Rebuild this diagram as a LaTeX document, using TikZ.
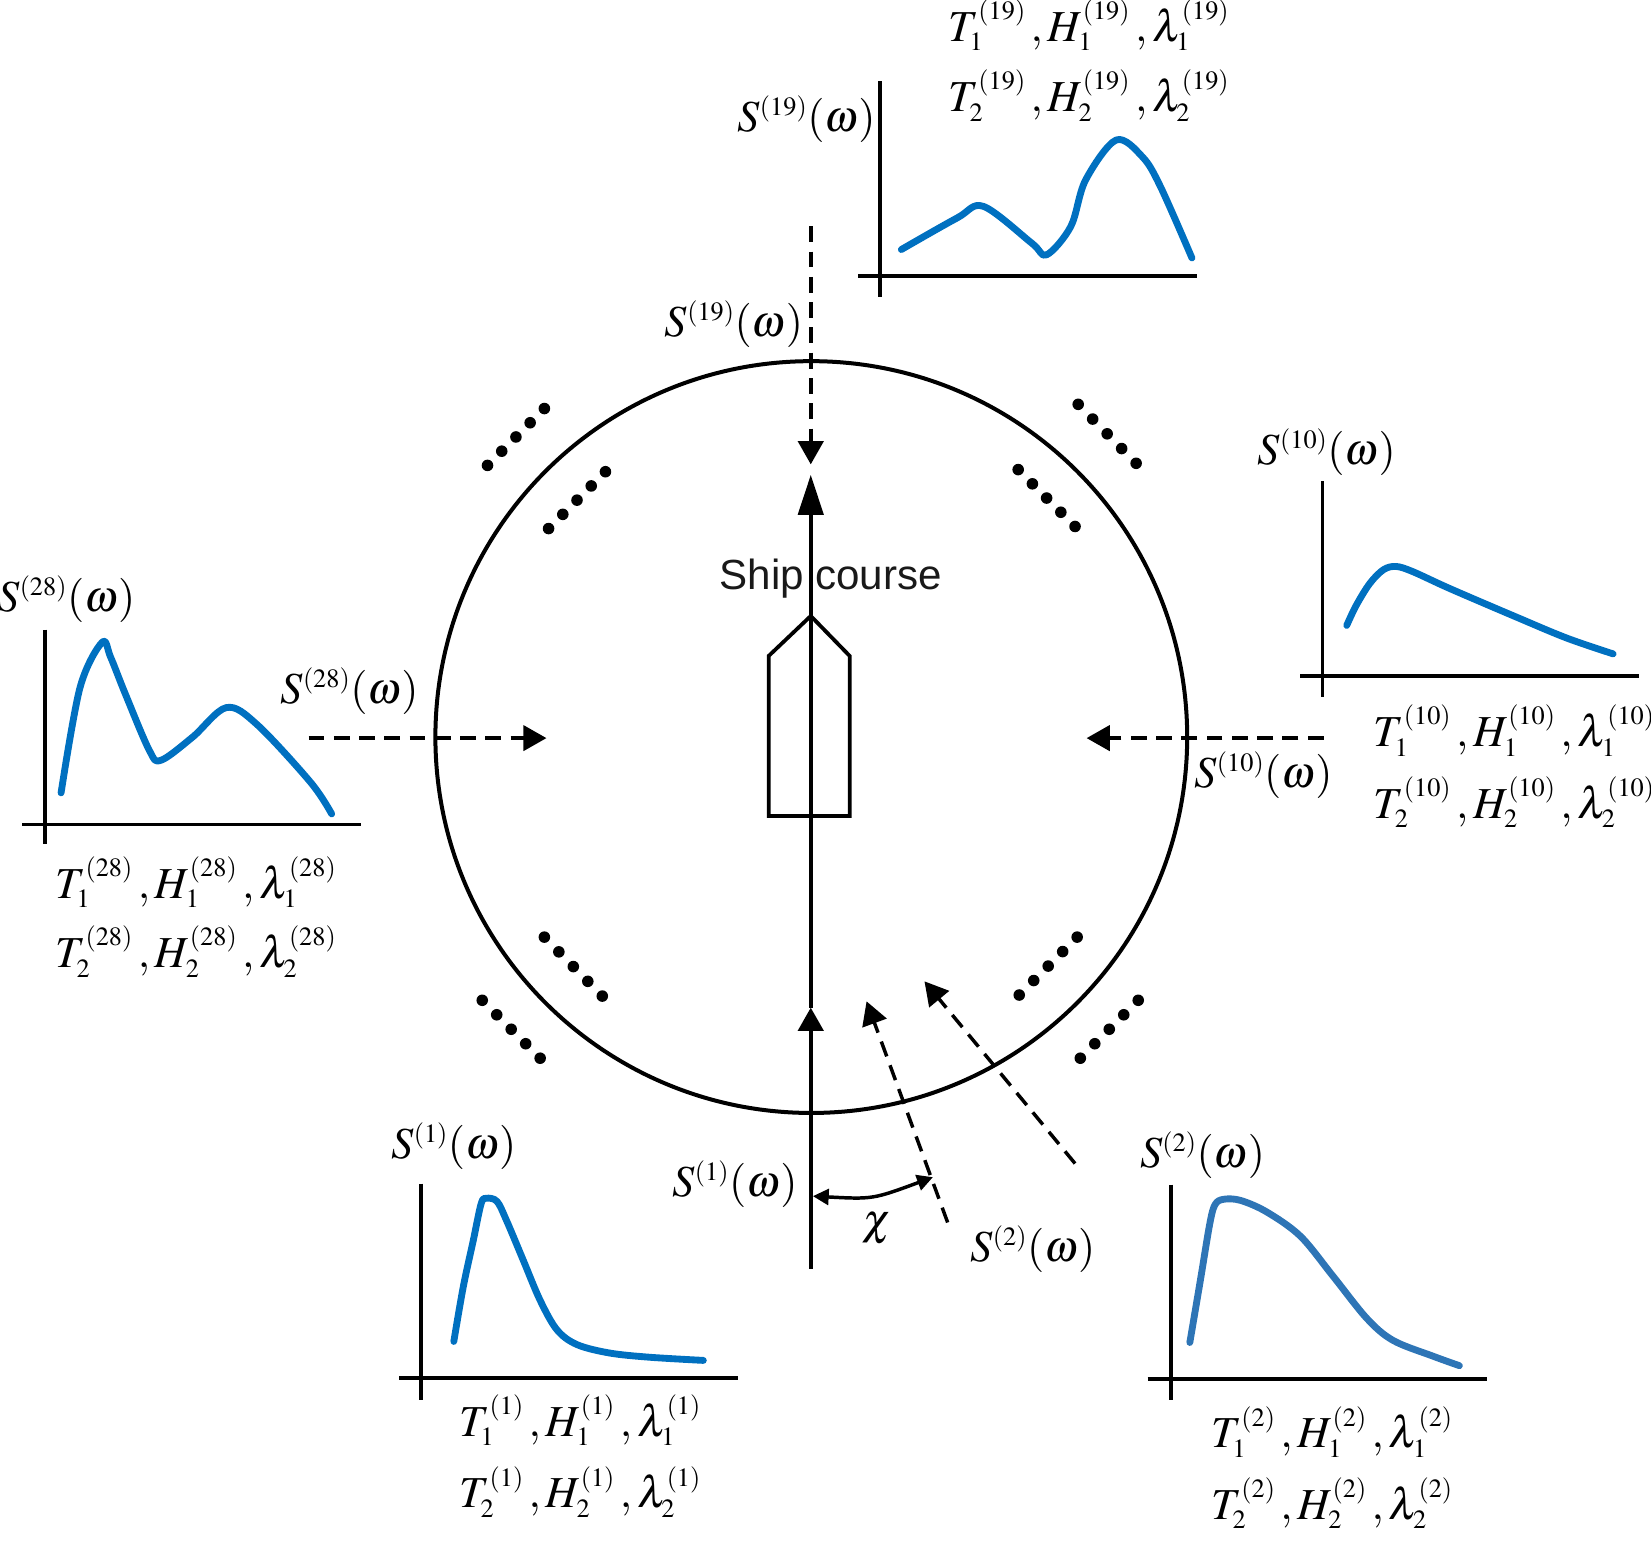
\documentclass[tikz,border=0pt]{standalone}
\usepackage{mathptmx}
\usepackage{fontspec}
\setmainfont{Liberation Serif}
\newfontfamily\shipfont{Liberation Sans}
\usetikzlibrary{arrows.meta,calc}
\DeclareMathSizes{42}{42}{25}{18}
\definecolor{specblue}{HTML}{0070C0}
\definecolor{specbluetwo}{HTML}{2E75B6}
\newcommand\wparams[2]{$T_{#1}^{(#2)}\,,H_{#1}^{(#2)}\,,\lambda_{#1}^{(#2)}$}
\begin{document}
\begin{tikzpicture}[x=1pt,y=-1pt,
  lbl/.style={anchor=base,inner sep=0pt,font=\fontsize{42}{50}\selectfont},
  axisline/.style={line width=3.6pt},
  spec/.style={line width=6.5pt,color=specblue,line cap=round,line join=round},
  wave/.style={line width=3.3pt,dash pattern=on 15pt off 9pt,-{Triangle[length=22pt,width=24pt]}},
  course/.style={line width=3.4pt},
  dotmark/.style={fill=black}
]
\useasboundingbox (0,0) rectangle (1568,1463);

% ring
\node[circle,draw,line width=3.8pt,minimum size=714pt,inner sep=0pt] (ring) at (770.5,700) {};

% ship
\draw[line width=3.6pt,line join=miter] (730,775) -- (730,623) -- (770,585) -- (807,623) -- (807,775) -- cycle;

% ship course line
\coordinate (sb) at (770,1205);
\coordinate (sm) at (770,957);
\coordinate (st) at (770,451);
\draw[course,-{Triangle[length=22pt,width=24pt]}] (sb) -- (sm);
\draw[course,-{Triangle[length=38pt,width=24pt]}] (sm) -- (st);
\node[anchor=base,inner sep=0pt,font=\shipfont\fontsize{40}{48}\selectfont,text=black!90] (shipcourse) at (789,560) {Ship course};

% wave direction arrows
\coordinate (w19a) at (770,215);  \coordinate (w19b) at (770,441);
\coordinate (w28a) at (293,701);  \coordinate (w28b) at (519,701);
\coordinate (w10a) at (1257,701); \coordinate (w10b) at (1032,701);
\coordinate (w2a1) at (900,1161); \coordinate (w2a2) at (823,951);
\coordinate (w2b1) at (1021,1105); \coordinate (w2b2) at (878,932);
\draw[wave] (w19a) -- (w19b);
\draw[wave] (w28a) -- (w28b);
\draw[wave] (w10a) -- (w10b);
\draw[wave] (w2a1) -- (w2a2);
\draw[wave] (w2b1) -- (w2b2);

% chi angle
\coordinate (c1) at (772,1136);
\coordinate (c2) at (886,1118);
\draw[line width=3.3pt,{Triangle[length=15pt,width=15pt]}-{Triangle[length=15pt,width=15pt]}] (c1) .. controls (829,1139) .. (c2);
\node[lbl] (chi) at (833,1172) {$\chi$};

% dots
\foreach \ax/\ay/\bx/\by in {463/442/517/388, 521/502/575/448, 1024/384/1079/440, 967/446/1021/500,
  517/890/572/946, 458/950/513/1005, 968/945/1023/890, 1026/1005/1081/950}{
  \foreach \i in {0,...,4}{
    \fill[dotmark] ($(\ax,\ay)!\i/4!(\bx,\by)$) circle[radius=5.5pt];
  }
}

% labels near arrows
\node[lbl] (s19a) at (697,320) {$S^{(19)}(\omega)$};
\node[lbl] (s28a) at (332,668) {$S^{(28)}(\omega)$};
\node[lbl] (s10a) at (1200,748) {$S^{(10)}(\omega)$};
\node[lbl] (s1a) at (698,1136) {$S^{(1)}(\omega)$};
\node[lbl] (s2a) at (981,1198) {$S^{(2)}(\omega)$};

% ---- spectrum 19 (top)
\draw[axisline] (836,77) -- (836,282);
\draw[axisline] (815,262) -- (1137,262);
\draw[spec] plot[smooth,tension=0.55] coordinates {(856,237) (909,207) (934,196) (980,231) (994,242) (1017,215) (1031,171) (1060,133) (1085,149) (1102,177) (1132,245)};
\node[lbl] (s19t) at (766,125) {$S^{(19)}(\omega)$};
\node[lbl] (p19a) at (1034,39) {\wparams{1}{19}};
\node[lbl] (p19b) at (1034,106) {\wparams{2}{19}};

% ---- spectrum 10 (right)
\draw[axisline] (1256,457) -- (1256,662);
\draw[axisline] (1235,642) -- (1557,642);
\draw[spec] plot[smooth,tension=0.55] coordinates {(1279,594) (1288,575) (1301,554) (1314,541) (1326,538) (1342,543) (1377,559) (1440,586) (1488,606) (1532,621)};
\node[lbl] (s10t) at (1260,441) {$S^{(10)}(\omega)$};
\node[lbl] (p10a) at (1438,709) {\wparams{1}{10}};
\node[lbl] (p10b) at (1438,777) {\wparams{2}{10}};

% ---- spectrum 28 (left)
\draw[axisline] (43,598) -- (43,802);
\draw[axisline] (21,783) -- (343,783);
\draw[spec] plot[smooth,tension=0.55] coordinates {(58,753) (76,653) (97,610) (105,624) (119,659) (142,713) (153,722) (183,700) (215,672) (244,688) (295,743) (315,773)};
\node[lbl] (s28t) at (63,581) {$S^{(28)}(\omega)$};
\node[lbl] (p28a) at (186,853) {\wparams{1}{28}};
\node[lbl] (p28b) at (186,919) {\wparams{2}{28}};

% ---- spectrum 1 (bottom left)
\draw[axisline] (400,1124) -- (400,1330);
\draw[axisline] (379,1309) -- (701,1309);
\draw[spec] plot[smooth,tension=0.55] coordinates {(431,1274) (440,1222) (449.5,1178) (457,1143) (462,1138) (472,1141) (481,1159) (497,1197) (513,1235) (529,1263) (548,1277) (579,1285) (617,1289) (668,1292)};
\node[lbl] (s1t) at (431,1100) {$S^{(1)}(\omega)$};
\node[lbl] (p1a) at (551,1364) {\wparams{1}{1}};
\node[lbl] (p1b) at (551,1432) {\wparams{2}{1}};

% ---- spectrum 2 (bottom right)
\draw[axisline] (1112,1125) -- (1112,1330);
\draw[axisline] (1090,1310) -- (1412,1310);
\draw[spec,color=specbluetwo] plot[smooth,tension=0.55] coordinates {(1130,1275) (1140,1216) (1149,1162) (1154,1144) (1162,1139) (1178,1140) (1203,1151) (1235,1174) (1266,1212) (1298,1252) (1323,1273) (1361,1288) (1386,1297)};
\node[lbl] (s2t) at (1142,1109) {$S^{(2)}(\omega)$};
\node[lbl] (p2a) at (1265,1375) {\wparams{1}{2}};
\node[lbl] (p2b) at (1265,1443) {\wparams{2}{2}};
\end{tikzpicture}
\end{document}
